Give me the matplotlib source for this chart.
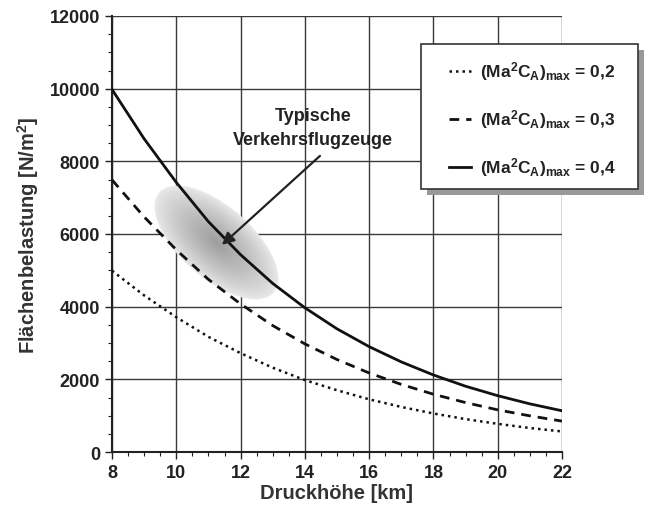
import numpy as np
import matplotlib
matplotlib.use("Agg")
import matplotlib.pyplot as plt
from matplotlib.patches import Rectangle
from matplotlib.lines import Line2D

plt.rcParams['font.family'] = ['Liberation Sans', 'DejaVu Sans']
plt.rcParams['mathtext.default'] = 'regular'

# Data
hoehe_km = [8, 9, 10, 11, 12, 13, 14, 15, 16, 17, 18, 19, 20, 21, 22]
last_02 = [4990, 4310, 3710, 3170, 2720, 2320, 1980, 1700, 1450, 1240, 1060, 905, 775, 660, 565]
last_03 = [7490, 6470, 5565, 4750, 4075, 3480, 2975, 2545, 2175, 1860, 1590, 1360, 1160, 995, 850]
last_04 = [9980, 8620, 7420, 6340, 5430, 4640, 3970, 3390, 2900, 2480, 2120, 1810, 1550, 1325, 1135]
labels = ['0,2', '0,3', '0,4']
xticks = [8, 10, 12, 14, 16, 18, 20, 22]
yticks = [0, 2000, 4000, 6000, 8000, 10000, 12000]

W, H = 651, 506
fig = plt.figure(figsize=(W/100, H/100), dpi=100)
ax = fig.add_axes([112/W, 1-453/H, 450/W, 436/H])
tc = '#222222'

ax.set_xticks(xticks)
ax.set_yticks(yticks)
ax.set_xticks(np.arange(8, 22.01, 0.5), minor=True)
ax.set_yticks(np.arange(0, 12001, 500), minor=True)
ax.grid(True, which='major', color='#3a3a3a', lw=1.0)
ax.tick_params(which='major', direction='out', length=5, width=1, colors=tc,
               labelsize=13)
ax.tick_params(which='minor', direction='out', length=3, width=0.8, colors=tc)
for lab in ax.get_xticklabels() + ax.get_yticklabels():
    lab.set_fontweight('bold')
ax.tick_params(axis='x', pad=4)
for s in ['top', 'right']:
    ax.spines[s].set_visible(False)
for s in ['left', 'bottom']:
    ax.spines[s].set_linewidth(1.5)
    ax.spines[s].set_color(tc)
ax.set_axisbelow(True)

# gray blob (typical airliners)
nx, ny = 400, 400
xs = np.linspace(8.5, 14.5, nx)
ys = np.linspace(2500, 9000, ny)
X, Y = np.meshgrid(xs, ys)
px = (X - 8) / 14 * 450
py = Y / 12000 * 436
cx, cy = (11.25 - 8) / 14 * 450, 5750 / 12000 * 436
th = np.deg2rad(-41)
dx, dy = px - cx, py - cy
u = dx*np.cos(th) + dy*np.sin(th)
v = -dx*np.sin(th) + dy*np.cos(th)
r = np.sqrt((u/76)**2 + (v/36)**2)
inten = np.clip(1 - r, 0, 1)
img = np.zeros((ny, nx, 4))
g = 0.92 - 0.30*inten**0.8
img[..., 0] = g; img[..., 1] = g; img[..., 2] = g
img[..., 3] = np.where(r < 1, 1.0, 0.0)
ax.imshow(img, extent=[xs[0], xs[-1], ys[0], ys[-1]], origin='lower',
          aspect='auto', zorder=1.5, interpolation='bilinear')
ax.set_xlim(8, 22)
ax.set_ylim(0, 12000)

ax.plot(hoehe_km, last_02, color='#111111', lw=1.8, ls=(0, (1, 1.6)), zorder=3)
ax.plot(hoehe_km, last_03, color='#111111', lw=2.0, ls=(0, (3.5, 2.5)), zorder=3)
ax.plot(hoehe_km, last_04, color='#111111', lw=2.0, ls='-', zorder=3)

ax.set_xlabel('Druckhöhe [km]', fontsize=14.5, fontweight='bold', color='#333333', labelpad=1)
ax.set_ylabel('Flächenbelastung [N/m$^2$]', fontsize=14.5, fontweight='bold',
              color='#333333', labelpad=6)

# annotation
ax.text(14.25, 9250, 'Typische', ha='center', va='center', fontsize=13,
        fontweight='bold', color=tc, zorder=5)
ax.text(14.25, 8610, 'Verkehrsflugzeuge', ha='center', va='center', fontsize=13,
        fontweight='bold', color=tc, zorder=5)
ax.annotate('', xy=(11.42, 5700), xytext=(14.47, 8150),
            arrowprops=dict(arrowstyle='-|>', color='#222222', lw=1.6,
                            mutation_scale=18, shrinkA=0, shrinkB=0), zorder=5)

# legend box with shadow (figure coords)
bx0, by0, bx1, by1 = 421, 45, 638, 190
fig.patches.append(Rectangle(((bx0+6)/W, 1-(by1+6)/H), (bx1-bx0)/W, (by1-by0)/H,
                             transform=fig.transFigure, facecolor='#999999',
                             edgecolor='none', zorder=10))
fig.patches.append(Rectangle((bx0/W, 1-by1/H), (bx1-bx0)/W, (by1-by0)/H,
                             transform=fig.transFigure, facecolor='white',
                             edgecolor='#333333', lw=1.2, zorder=11))
styles = [(0, (1, 1.6)), (0, (3.5, 2.5)), '-']
lws = [1.8, 2.0, 2.0]
ypix = [72, 120, 168]
for lab, st, lw, yp in zip(labels, styles, lws, ypix):
    fig.add_artist(Line2D([449/W, 471/W], [1-yp/H, 1-yp/H], transform=fig.transFigure,
                          color='#111111', lw=lw, ls=st, zorder=12))
    fig.text(480/W, 1-yp/H, r'(Ma$^2$C$_A$)$_{max}$ = ' + lab, fontsize=12.5,
             fontweight='bold', color=tc, va='center', ha='left', zorder=12)

fig.savefig('out.png', dpi=100)
